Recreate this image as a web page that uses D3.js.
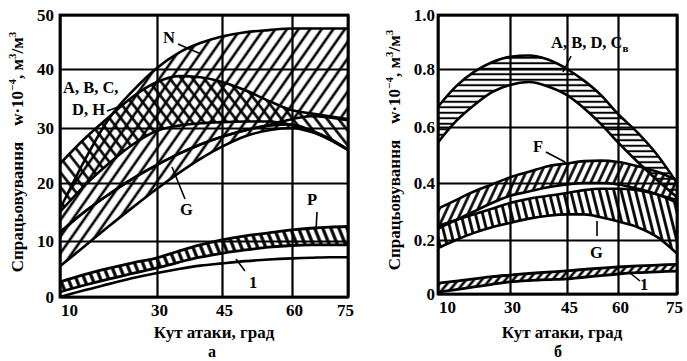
<!DOCTYPE html>
<html><head><meta charset="utf-8">
<script src="https://cdn.jsdelivr.net/npm/d3@7/dist/d3.min.js"></script>
<style>
html,body{margin:0;padding:0;background:#fff;}
svg{display:block;}
text{font-family:"Liberation Serif","Times New Roman",serif;font-weight:bold;fill:#000;}
</style></head>
<body><svg id="c" width="687" height="361"></svg>
<script>
// ---------- data ----------
const angles = [10,15,20,25,30,35,40,45,50,55,60,65,70,75];
const xTicks = [10,30,45,60,75];
const aYTicks = [0,10,20,30,40,50];
const bYTicks = [0,0.2,0.4,0.6,0.8,1.0];

// panel a (w·10^-4)
const aN_top   = [15.5,24,31.5,36.3,40.2,43,44.8,46,46.8,47.2,47.5,47.5,47.5,47.5];
const aN_bot   = [11.5,15,18,20.8,23.3,25.3,27,28.4,29.6,30.5,31.5,32,31.8,31.3];
const aABCDH_top = [23.5,28,31.8,35.3,37.8,38.8,38.6,37.8,36.4,34.6,33,32.5,32,31.5];
const aABCDH_bot = [15,19.5,23.5,27,29.5,30.4,30.8,31,31.1,31.1,30.5,29.5,28,26];
const aG_top   = [11.5,15,18,20.8,23.3,25.3,27,28.4,29.6,30.4,30.6,29.6,28.1,26.1];
const aG_bot   = [5.5,9,12.5,15.8,19,21.8,24.4,26.6,28.5,29.6,30,29.3,27.9,26];
const aP_top   = [2.7,4,5.1,6.1,7,8.2,9.3,10.2,10.9,11.4,11.9,12.2,12.4,12.5];
const aP_bot   = [0.9,2.1,3.2,4.2,5.2,6.2,7.1,7.8,8.4,8.9,9.2,9.3,9.3,9.3];
const a1       = [0,1.2,2.3,3.4,4.3,5,5.6,6,6.4,6.7,6.9,7,7.1,7.1];

// panel b
const bABD_top = [0.67,0.74,0.79,0.825,0.845,0.85,0.835,0.80,0.76,0.71,0.645,0.58,0.50,0.40];
const bABD_bot = [0.545,0.62,0.675,0.72,0.745,0.755,0.74,0.71,0.665,0.61,0.545,0.475,0.41,0.35];
const bF_top   = [0.31,0.34,0.37,0.395,0.42,0.44,0.46,0.47,0.478,0.48,0.475,0.46,0.44,0.41];
const bF_bot   = [0.24,0.27,0.30,0.33,0.355,0.37,0.385,0.395,0.40,0.40,0.395,0.38,0.36,0.33];
const bG_top   = [0.25,0.27,0.29,0.31,0.33,0.345,0.355,0.365,0.375,0.38,0.38,0.375,0.36,0.34];
const bG_bot   = [0.17,0.20,0.225,0.245,0.26,0.275,0.285,0.29,0.29,0.28,0.265,0.245,0.21,0.15];
const bI_top   = [0.04,0.048,0.056,0.064,0.07,0.076,0.081,0.086,0.091,0.096,0.10,0.104,0.107,0.11];
const bI_bot   = [0.007,0.016,0.026,0.036,0.045,0.05,0.053,0.056,0.062,0.068,0.074,0.079,0.082,0.085];

const xTitle = "Кут атаки, град";
const yTitleParts = [{t:"Спрацьовування"},{t:"w·10",gap:true},{t:"−4",sup:true},{t:", м"},{t:"3",sup:true},{t:"/м"},{t:"3",sup:true}];

// ---------- drawing ----------
const svg = d3.select("#c");
const defs = svg.append("defs");
function hatch(id, angle, gap, sw){
  const p = defs.append("pattern").attr("id",id).attr("patternUnits","userSpaceOnUse")
    .attr("width",gap).attr("height",gap).attr("patternTransform",`rotate(${angle})`);
  p.append("line").attr("x1",gap/2).attr("y1",-1).attr("x2",gap/2).attr("y2",gap+1)
    .attr("stroke","#000").attr("stroke-width",sw);
}
hatch("hFwdA",35,9.5,2.6);
hatch("hBackA",-38,9,2.6);
hatch("hP",-22,7.5,3.2);
hatch("hHor",90,5.5,2);
hatch("hF",25,7,2.6);
hatch("hG",-14,7,2.8);
hatch("hI",40,6,2.6);

function panel(cfg){
  const g = svg.append("g");
  const x = d3.scaleLinear().domain(xTicks).range(cfg.xr);
  const y = d3.scaleLinear().domain(cfg.yTicks).range(cfg.yr);
  const [x0,x1] = [cfg.xr[0], cfg.xr[cfg.xr.length-1]];
  const [y0,y1] = [cfg.yr[0], cfg.yr[cfg.yr.length-1]];
  const clipId = "clip"+cfg.id;
  defs.append("clipPath").attr("id",clipId).append("rect").attr("x",x0).attr("y",y1).attr("width",x1-x0).attr("height",y0-y1);

  // grid
  g.append("g").attr("transform",`translate(0,${y0})`)
   .call(d3.axisBottom(x).tickValues(xTicks).tickSize(-(y0-y1)).tickFormat(""))
   .call(s=>{s.select(".domain").remove(); s.selectAll("line").attr("stroke","#000").attr("stroke-width",2.2);});
  g.append("g").attr("transform",`translate(${x0},0)`)
   .call(d3.axisLeft(y).tickValues(cfg.yTicks).tickSize(-(x1-x0)).tickFormat(""))
   .call(s=>{s.select(".domain").remove(); s.selectAll("line").attr("stroke","#000").attr("stroke-width",2.2);});

  // bands
  const bandsG = g.append("g").attr("clip-path",`url(#${clipId})`);
  cfg.bands.forEach(b=>{
    const data = angles.map((a,i)=>({a, lo:b.lo[i], hi:b.hi[i]}));
    const area = d3.area().x(d=>x(d.a)).y0(d=>y(d.lo)).y1(d=>y(d.hi)).curve(d3.curveMonotoneX);
    bandsG.append("path").attr("d",area(data)).attr("fill",`url(#${b.pat})`);
  });
  cfg.bands.forEach(b=>{
    const data = angles.map((a,i)=>({a, lo:b.lo[i], hi:b.hi[i]}));
    ["lo","hi"].forEach(k=>{
      const line = d3.line().x(d=>x(d.a)).y(d=>y(d[k])).curve(d3.curveMonotoneX);
      bandsG.append("path").attr("d",line(data)).attr("fill","none").attr("stroke","#000").attr("stroke-width",b.sw||2.6);
    });
  });
  (cfg.lines||[]).forEach(l=>{
    const line = d3.line().x((d,i)=>x(angles[i])).y(d=>y(d)).curve(d3.curveMonotoneX);
    bandsG.append("path").attr("d",line(l)).attr("fill","none").attr("stroke","#000").attr("stroke-width",2.6);
  });

  // frame
  g.append("rect").attr("x",x0).attr("y",y1).attr("width",x1-x0).attr("height",y0-y1)
   .attr("fill","none").attr("stroke","#000").attr("stroke-width",2.8);

  // x tick labels
  const ax = g.append("g").attr("transform",`translate(0,${y0})`)
   .call(d3.axisBottom(x).tickValues(xTicks).tickSize(0).tickPadding(0).tickFormat(d3.format("d")));
  ax.select(".domain").remove();
  ax.selectAll("text").attr("font-size",17).attr("y",19).attr("dy",0)
    .attr("dx",(d,i)=> i===0?9:(i===xTicks.length-1?-3:2));
  // y tick labels
  const ay = g.append("g").attr("transform",`translate(${x0},0)`)
   .call(d3.axisLeft(y).tickValues(cfg.yTicks).tickSize(0).tickPadding(cfg.yPad).tickFormat(cfg.yFmt));
  ay.select(".domain").remove();
  ay.selectAll("text").attr("font-size",17).attr("dy","0.35em");

  // titles
  g.append("text").attr("x",cfg.xTitleX).attr("y",338).attr("text-anchor","middle").attr("font-size",17).text(xTitle);
  g.append("text").attr("x",cfg.subX).attr("y",357).attr("text-anchor","middle").attr("font-size",16).text(cfg.sub);
  const yt = g.append("text").attr("transform",`translate(${cfg.yTitleX},${cfg.yTitleY}) rotate(-90)`)
    .attr("text-anchor","middle").attr("font-size",17);
  yTitleParts.forEach((p,i)=>{
    const ts = yt.append("tspan").text(p.t);
    if(p.gap) ts.attr("dx",16);
    if(p.sup) ts.attr("font-size",11).attr("dy",-7);
    else if(i>0 && yTitleParts[i-1].sup) ts.attr("dy",7);
  });

  // annotations
  cfg.labels.forEach(l=>{
    const t = g.append("text").attr("x",l.x).attr("y",l.y).attr("font-size",l.fs||16.5).attr("text-anchor",l.anchor||"start");
    t.append("tspan").text(l.t);
    if(l.subT) t.append("tspan").attr("font-size",11).attr("dy",4).text(l.subT);
  });
  cfg.pointers.forEach(p=>{
    g.append("line").attr("x1",p[0]).attr("y1",p[1]).attr("x2",p[2]).attr("y2",p[3]).attr("stroke","#000").attr("stroke-width",1.6);
  });
  return {x,y};
}

panel({
  id:"a", xr:[60,157,222,292,348], yTicks:aYTicks, yr:[297,241,183,128,69,15],
  yPad:6, yFmt:d3.format("d"),
  xTitleX:214, sub:"а", subX:212, yTitleX:23, yTitleY:152,
  bands:[
    {lo:aN_bot, hi:aN_top, pat:"hFwdA"},
    {lo:aG_bot, hi:aG_top, pat:"hFwdA"},
    {lo:aABCDH_bot, hi:aABCDH_top, pat:"hBackA"},
    {lo:aP_bot, hi:aP_top, pat:"hP", sw:2.8}
  ],
  lines:[a1],
  labels:[
    {t:"N", x:163, y:43},
    {t:"A, B, C,", x:63, y:93},
    {t:"D, H", x:72, y:115},
    {t:"G", x:180, y:215},
    {t:"P", x:307, y:205},
    {t:"1", x:249, y:288}
  ],
  pointers:[[178,44,201,54],[107,111,121,106],[185,199,172,167],[317,212,316,231],[236,259,245,271]]
});

panel({
  id:"b", xr:[438,510,567,618,677], yTicks:bYTicks, yr:[294,240,183,127,69,15],
  yPad:3, yFmt:d=> d===0?"0":d3.format(".1f")(d),
  xTitleX:562, sub:"б", subX:558, yTitleX:400, yTitleY:150,
  bands:[
    {lo:bABD_bot, hi:bABD_top, pat:"hHor"},
    {lo:bF_bot, hi:bF_top, pat:"hF"},
    {lo:bG_bot, hi:bG_top, pat:"hG"},
    {lo:bI_bot, hi:bI_top, pat:"hI", sw:2.8}
  ],
  labels:[
    {t:"A, B, D, C", subT:"в", x:551, y:48},
    {t:"F", x:533, y:152},
    {t:"G", x:590, y:258},
    {t:"1", x:640, y:290}
  ],
  pointers:[[571,56,563,72],[546,152,565,162],[597,221,597,236],[630,273,640,281]]
});
</script></body></html>
